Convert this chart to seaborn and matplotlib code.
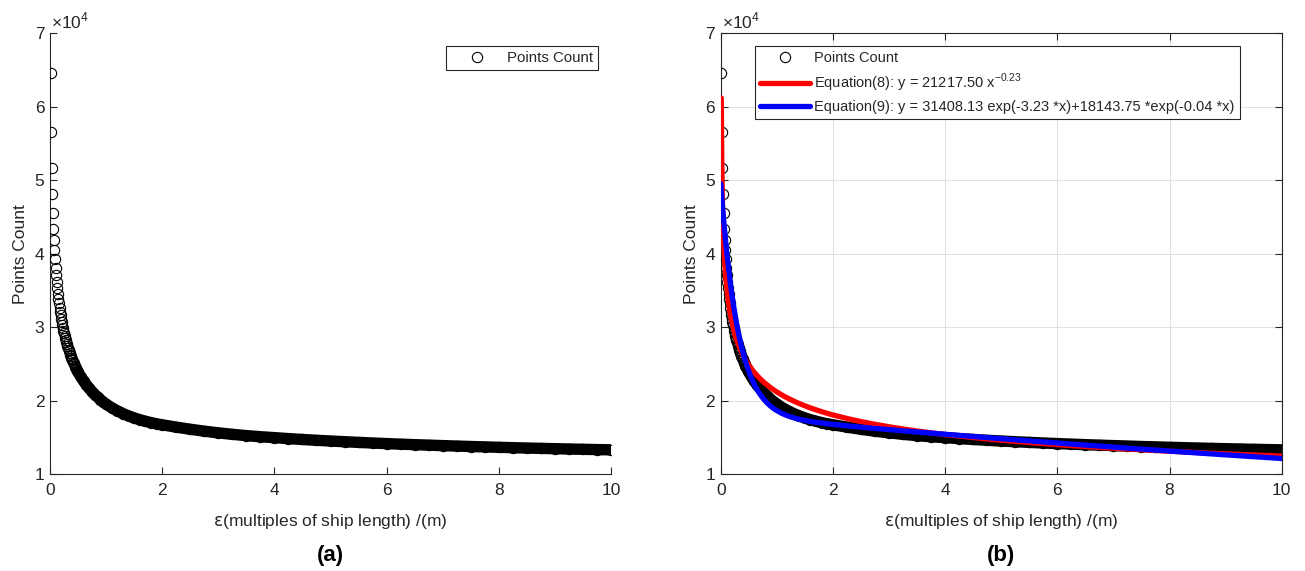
import numpy as np
import pandas as pd
import matplotlib
matplotlib.use("Agg")
import matplotlib.pyplot as plt
import seaborn as sns

# ---------------- data ----------------
# epsilon grid segments (multiples of ship length)
eps_seg1 = np.round(np.arange(0.01, 0.505, 0.01), 2)   # 0.01 .. 0.50
eps_seg2 = np.round(np.arange(0.55, 1.001, 0.05), 2)   # 0.55 .. 1.00
eps_seg3 = np.round(np.arange(1.1, 2.001, 0.1), 2)     # 1.1 .. 2.0
eps_seg4 = np.round(np.arange(2.25, 10.001, 0.25), 2)  # 2.25 .. 10.0

count_seg1 = [64650, 56540, 51650, 48110, 45520, 43430, 41890, 40530, 39300, 38120,
              37080, 36150, 35330, 34580, 33880, 33250, 32670, 32140, 31640, 31170,
              30730, 30320, 29940, 29570, 29220, 28890, 28570, 28280, 27990, 27710,
              27450, 27200, 26960, 26730, 26500, 26290, 26080, 25880, 25690, 25500,
              25320, 25150, 24980, 24810, 24650, 24490, 24340, 24190, 24050, 23910]
count_seg2 = [23260, 22680, 22160, 21690, 21260, 20860, 20500, 20160, 19850, 19550]
count_seg3 = [19070, 18650, 18280, 17960, 17680, 17440, 17230, 17045, 16885, 16745]
count_seg4 = [16430, 16140, 15880, 15650, 15450, 15275, 15125, 15000,
              14870, 14750, 14640, 14540, 14445, 14355, 14270, 14190,
              14115, 14045, 13980, 13915, 13855, 13795, 13740, 13685,
              13635, 13585, 13540, 13495, 13455, 13415, 13375, 13340]

# fitted equations shown in the legend of panel (b)
eq8_a, eq8_b = 21217.50, -0.23
eq9_a, eq9_b, eq9_c, eq9_d = 31408.13, -3.23, 18143.75, -0.04

x_ticks = [0, 2, 4, 6, 8, 10]
y_ticks = [10000, 20000, 30000, 40000, 50000, 60000, 70000]
y_tick_labels = ["1", "2", "3", "4", "5", "6", "7"]

points_label = "Points Count"
eq8_label = "Equation(8): y = %.2f x$^{%.2f}$" % (eq8_a, eq8_b)
eq9_label = "Equation(9): y = %.2f exp(%.2f *x)+%.2f *exp(%.2f *x)" % (eq9_a, eq9_b, eq9_c, eq9_d)
x_label = r"$\epsilon$(multiples of ship length) /(m)"
y_label = "Points Count"

# ---------------- build frames ----------------
eps = np.concatenate([eps_seg1, eps_seg2, eps_seg3, eps_seg4])
counts = np.array(count_seg1 + count_seg2 + count_seg3 + count_seg4, dtype=float)
df = pd.DataFrame({"eps": eps, "count": counts})
df_band = df[df["eps"] >= 0.5]

fit8_x = eps
fit8_y = eq8_a * fit8_x ** eq8_b
fit9_x = np.concatenate([[0.0], eps])
fit9_y = eq9_a * np.exp(eq9_b * fit9_x) + eq9_c * np.exp(eq9_d * fit9_x)

# ---------------- style ----------------
sns.set_style("ticks")
plt.rcParams["font.family"] = ["Liberation Sans", "DejaVu Sans"]
plt.rcParams["mathtext.fontset"] = "custom"
plt.rcParams["mathtext.rm"] = "Liberation Sans"
plt.rcParams["mathtext.it"] = "DejaVu Sans"
plt.rcParams["mathtext.fallback"] = "cm"
plt.rcParams["axes.unicode_minus"] = False

TXT = "#262626"
fig = plt.figure(figsize=(13.05, 5.71), dpi=100)
W, H = 1305.0, 571.0
ax_bottom = (H - 474.4) / H
ax_height = 441.1 / H
ax_width = 561.0 / W
ax1 = fig.add_axes([50.0 / W, ax_bottom, ax_width, ax_height])
ax2 = fig.add_axes([720.7 / W, ax_bottom, ax_width, ax_height])

MS, MEW = 7.4, 0.8


def draw_points(ax, label):
    # solid band where the circles overlap densely
    sns.lineplot(data=df_band, x="eps", y="count", ax=ax, color="black",
                 lw=MS + MEW, solid_capstyle="round", estimator=None, sort=False,
                 label="_nolegend_", zorder=2)
    sns.lineplot(data=df, x="eps", y="count", ax=ax, color="black",
                 linestyle="", marker="o", markersize=MS,
                 markerfacecolor="none", markeredgecolor="black",
                 markeredgewidth=MEW, estimator=None, sort=False,
                 label=label, zorder=3)


def style_axes(ax, box):
    ax.set_xlim(0, 10)
    ax.set_ylim(10000, 70000)
    ax.set_xticks(x_ticks)
    ax.set_xticklabels([str(t) for t in x_ticks])
    ax.set_yticks(y_ticks)
    ax.set_yticklabels(y_tick_labels)
    ax.tick_params(direction="in", length=5, width=0.8, colors=TXT,
                   labelsize=12.5, top=box, right=box)
    ax.tick_params(axis="x", pad=6)
    ax.tick_params(axis="y", pad=4)
    for side in ["left", "bottom", "top", "right"]:
        ax.spines[side].set_color(TXT)
        ax.spines[side].set_linewidth(0.8)
        if side in ("top", "right"):
            ax.spines[side].set_visible(box)
    ax.set_xlabel(x_label, fontsize=12.5, color=TXT)
    ax.set_ylabel(y_label, fontsize=12.5, color=TXT)
    ax.xaxis.set_label_coords(0.5, -0.085)
    ax.yaxis.set_label_coords(-0.039, 0.5)
    ax.text(0.002, 1.004, r"$\times10^{4}$", transform=ax.transAxes,
            ha="left", va="bottom", fontsize=12.5, color=TXT)


# ---------------- panel (a) ----------------
draw_points(ax1, points_label)
style_axes(ax1, box=False)
leg1 = ax1.legend(loc="upper right", bbox_to_anchor=(0.9768, 0.9719),
                  borderaxespad=0, fontsize=10.8, frameon=True, fancybox=False,
                  framealpha=1, edgecolor=TXT, borderpad=0.35,
                  handlelength=3.4, handletextpad=0.3)
leg1.get_frame().set_linewidth(0.8)

# ---------------- panel (b) ----------------
ax2.grid(True, color="#e0e0e0", lw=0.7)
ax2.set_axisbelow(True)
draw_points(ax2, points_label)
sns.lineplot(x=fit8_x, y=fit8_y, ax=ax2, color="#ff0000", lw=3.8,
             estimator=None, sort=False, label=eq8_label, zorder=4)
sns.lineplot(x=fit9_x, y=fit9_y, ax=ax2, color="#0000ff", lw=3.8,
             estimator=None, sort=False, label=eq9_label, zorder=5)
style_axes(ax2, box=True)
leg2 = ax2.legend(loc="upper left", bbox_to_anchor=(0.0611, 0.9719),
                  borderaxespad=0, fontsize=10.5, frameon=True, fancybox=False,
                  framealpha=1, edgecolor=TXT, borderpad=0.35,
                  handlelength=3.4, handletextpad=0.3, labelspacing=0.45)
leg2.get_frame().set_linewidth(0.8)

# ---------------- panel captions ----------------
fig.text(330.5 / W, 1 - 555.0 / H, "(a)", ha="center", va="center",
         fontsize=16, fontweight="bold", color="black")
fig.text(1001.5 / W, 1 - 555.0 / H, "(b)", ha="center", va="center",
         fontsize=16, fontweight="bold", color="black")

fig.savefig("out.png", dpi=100, facecolor="white")
